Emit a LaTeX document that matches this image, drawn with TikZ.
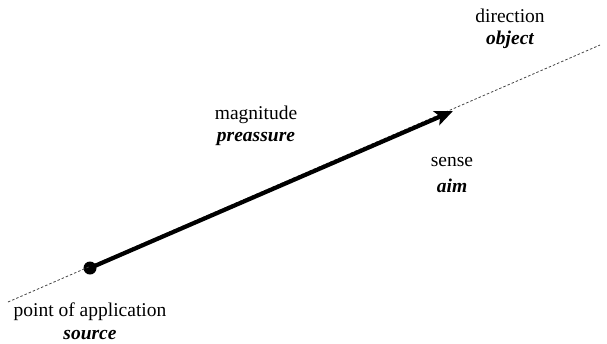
\documentclass[tikz,border=0pt]{standalone}
\usepackage{fontspec}
\setmainfont{Liberation Serif}
\usetikzlibrary{arrows.meta}
\definecolor{lineGray}{HTML}{444444}

\begin{document}
\begin{tikzpicture}[
    label/.style={font=\fontsize{19.5}{23}\selectfont, align=center, inner sep=0pt},
    term/.style={label, font=\fontsize{19.5}{23}\selectfont\bfseries\itshape},
    axis/.style={lineGray, line width=0.8pt, dash pattern=on 2.5pt off 2pt},
    force/.style={line width=4.2pt, -{Stealth[length=18pt, width=15pt, inset=4pt]}},
    x=1pt, y=-1pt]

    % ----- frame of the reference picture
    \useasboundingbox (0, 0) rectangle (607, 343);

    % ----- line of action and the force on it
    \coordinate (lineStart) at (8, 302);
    \coordinate (lineEnd)   at (600, 45);
    \coordinate (tip)       at (453, 111);
    \node[circle, fill=black, inner sep=0pt, minimum size=13pt] (dot) at (90, 268) {};

    \draw[axis] (lineStart) -- (lineEnd);
    \draw[force] (dot.center) -- (tip);

    % ----- labels
    \node[label] (dirName)   at (510, 16)  {direction};
    \node[term]  (dirTerm)   at (510, 40)  {object};
    \node[label] (magName)   at (256, 115) {magnitude};
    \node[term]  (magTerm)   at (256, 139) {preassure};
    \node[label] (senseName) at (452, 162) {sense};
    \node[term]  (senseTerm) at (452, 186) {aim};
    \node[label] (pointName) at (90, 312)  {point of application};
    \node[term]  (pointTerm) at (90, 335)  {source};
\end{tikzpicture}
\end{document}
